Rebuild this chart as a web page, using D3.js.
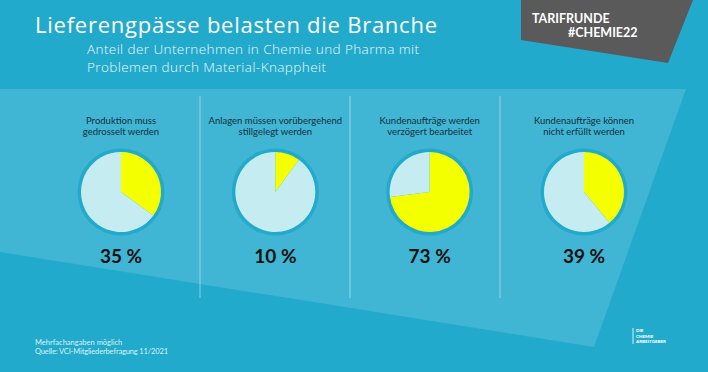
<html>
<head>
<meta charset="utf-8">
<script src="https://cdnjs.cloudflare.com/ajax/libs/d3/7.8.5/d3.min.js"></script>
<style>
body { margin: 0; background: #22aacc; }
svg { display: block; font-family: Lato, sans-serif; }
.title { fill: #fff; font-family: "Open Sans", sans-serif; font-size: 22px; font-weight: 500; }
.subtitle { fill: #eef8fb; font-family: "Open Sans", sans-serif; font-size: 13.5px; font-weight: 300; }
.label { fill: #14303c; font-size: 9.5px; text-anchor: middle; }
.value { fill: #111; font-size: 19px; font-weight: 700; text-anchor: middle; }
.foot { fill: #d9f1f7; font-size: 7.5px; }
.tag { fill: #fff; font-size: 12.5px; font-weight: 700; }
.logo { fill: #fff; font-size: 4.5px; font-weight: 900; }
</style>
</head>
<body>
<svg id="chart" width="708" height="372"></svg>
<script>
var categories = [
  ["Produktion muss", "gedrosselt werden"],
  ["Anlagen müssen vorübergehend", "stillgelegt werden"],
  ["Kundenaufträge werden", "verzögert bearbeitet"],
  ["Kundenaufträge können", "nicht erfüllt werden"]
];
var values = [35, 10, 73, 39];
var valueLabels = ["35 %", "10 %", "73 %", "39 %"];

var width = 708, height = 372;
var chart = d3.select('#chart');

// stretch a text to a target width (reference font is wider)
function fit(sel, w) {
  var n = sel.node().getComputedTextLength();
  if (Math.abs(n - w) > 2) sel.attr('textLength', w).attr('lengthAdjust', 'spacing');
  return sel;
}

// background
chart.append('rect').attr('width', width).attr('height', height).attr('fill', '#22aacc');
// lighter panel
chart.append('path')
  .attr('d', 'M0,89 L686,89 L594,347 L0,252 Z')
  .attr('fill', '#40b5d4');

// grey tag top right
chart.append('path')
  .attr('d', 'M521,0 L693,0 L668,63 L521,40 Z')
  .attr('fill', '#5a5a5a');
chart.append('text').attr('class', 'tag').attr('x', 532).attr('y', 23).text('TARIFRUNDE');
chart.append('text').attr('class', 'tag').attr('x', 568).attr('y', 37).text('#CHEMIE22');

// title
fit(chart.append('text').attr('class', 'title').attr('x', 35).attr('y', 32.5)
  .text('Lieferengpässe belasten die Branche'), 402);
fit(chart.append('text').attr('class', 'subtitle').attr('x', 87).attr('y', 54)
  .text('Anteil der Unternehmen in Chemie und Pharma mit'), 332);
fit(chart.append('text').attr('class', 'subtitle').attr('x', 87).attr('y', 71.5)
  .text('Problemen durch Material-Knappheit'), 239);

// columns
var x = d3.scalePoint().domain(d3.range(values.length)).range([121, 584]);
var dividers = [200, 350, 500];
chart.selectAll('.divider').data(dividers).enter().append('line')
  .attr('class', 'divider')
  .attr('x1', function(d){ return d; }).attr('x2', function(d){ return d; })
  .attr('y1', 96).attr('y2', 298)
  .attr('stroke', 'rgba(255,255,255,0.45)').attr('stroke-width', 1);

var pie = d3.pie().sort(null);
var arc = d3.arc().innerRadius(0).outerRadius(40);
var colors = ['#f4ff00', '#c5ecf0'];

var cols = chart.selectAll('.col').data(values).enter().append('g')
  .attr('class', 'col')
  .attr('transform', function(d, i){ return 'translate(' + x(i) + ',0)'; });

cols.each(function(d, i){
  var g = d3.select(this);
  g.append('text').attr('class', 'label').attr('y', 124).text(categories[i][0]);
  g.append('text').attr('class', 'label').attr('y', 135).text(categories[i][1]);
  var p = g.append('g').attr('transform', 'translate(0,192)');
  p.append('circle').attr('r', 43.5).attr('fill', '#22aacc');
  p.selectAll('path').data(pie([d, 100 - d])).enter().append('path')
    .attr('d', arc)
    .attr('fill', function(s, j){ return colors[j]; });
  g.append('text').attr('class', 'value').attr('y', 263).text(valueLabels[i]);
});

// footer
fit(chart.append('text').attr('class', 'foot').attr('x', 35).attr('y', 345).text('Mehrfachangaben möglich'), 87);
fit(chart.append('text').attr('class', 'foot').attr('x', 35).attr('y', 354).text('Quelle: VCI-Mitgliederbefragung 11/2021'), 133);

// logo
chart.append('line').attr('x1', 633).attr('x2', 633).attr('y1', 328).attr('y2', 344)
  .attr('stroke', '#fff').attr('stroke-width', 0.8);
['DIE', 'CHEMIE', 'ARBEITGEBER'].forEach(function(t, i){
  chart.append('text').attr('class', 'logo').attr('x', 636).attr('y', 332 + i * 5.5).text(t);
});
</script>
</body>
</html>
